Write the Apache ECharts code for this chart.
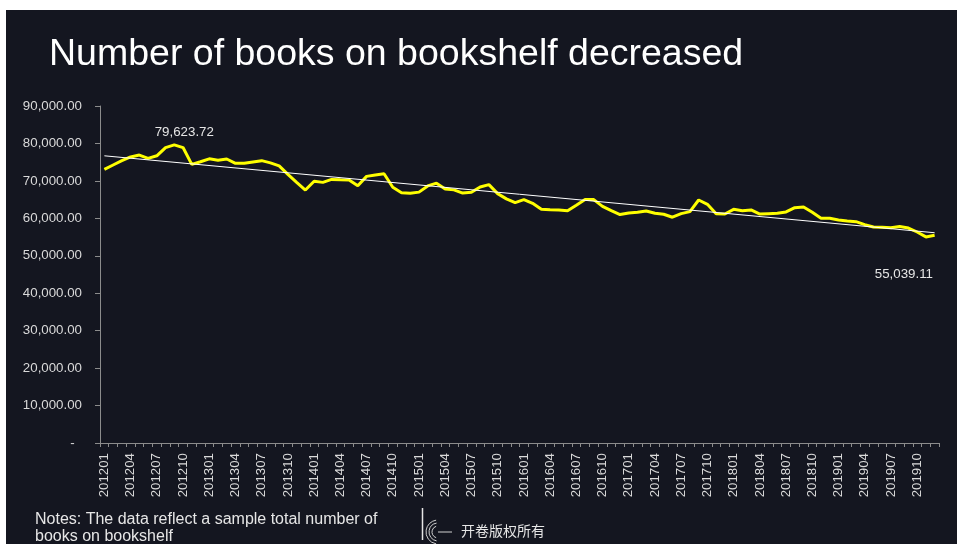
<!DOCTYPE html>
<html>
<head>
<meta charset="utf-8">
<script src="https://cdn.jsdelivr.net/npm/echarts@6/dist/echarts.min.js"></script>
<style>
html,body{margin:0;padding:0;background:#ffffff;width:957px;height:544px;overflow:hidden;}
#chart{position:absolute;left:6px;top:10px;width:951px;height:534px;background:#141620;}
</style>
</head>
<body>
<div id="chart"></div>
<script>
const categories = [
'201201','201202','201203','201204','201205','201206','201207','201208','201209','201210','201211','201212',
'201301','201302','201303','201304','201305','201306','201307','201308','201309','201310','201311','201312',
'201401','201402','201403','201404','201405','201406','201407','201408','201409','201410','201411','201412',
'201501','201502','201503','201504','201505','201506','201507','201508','201509','201510','201511','201512',
'201601','201602','201603','201604','201605','201606','201607','201608','201609','201610','201611','201612',
'201701','201702','201703','201704','201705','201706','201707','201708','201709','201710','201711','201712',
'201801','201802','201803','201804','201805','201806','201807','201808','201809','201810','201811','201812',
'201901','201902','201903','201904','201905','201906','201907','201908','201909','201910','201911','201912'
];
const books = [
73100,74250,75400,76400,76900,76000,76700,78900,79623.72,78900,74400,75100,
75900,75500,75850,74700,74700,75050,75400,74800,74000,71750,69600,67550,
69900,69600,70400,70300,70250,68700,71200,71600,71900,68300,66850,66700,
67000,68650,69400,67850,67600,66750,66950,68350,69000,66600,65200,64200,
65000,64000,62400,62300,62250,62050,63500,65000,65000,63200,62050,61000,
61450,61600,61950,61350,61100,60300,61250,61800,64900,63750,61250,61150,
62400,62050,62250,61150,61250,61350,61700,62850,63050,61600,60000,60000,
59550,59300,59100,58300,57700,57600,57500,57800,57400,56350,55039.11,55500
];
const trendEnds = [76700, 56150];
const labelledIdx = [8, 94];
const yTicks = {min: 0, max: 90000, interval: 10000};
const titleText = 'Number of books on bookshelf decreased';
const notesLines = ['Notes: The data reflect a sample total number of', 'books on bookshelf'];
const copyrightText = '开卷版权所有';

const fmt = v => v.toLocaleString('en-US', {minimumFractionDigits: 2, maximumFractionDigits: 2});
const FONT = '"Liberation Sans", Arial, sans-serif';
const chart = echarts.init(document.getElementById('chart'));
const labelOffsets = [[10, -1], [-22, 26]];
const labelPositions = ['top', 'bottom'];

chart.setOption({
  backgroundColor: '#141620',
  animation: false,
  title: {
    text: titleText, left: 38, top: 21,
    textStyle: {color: '#ffffff', fontSize: 37.5, fontWeight: 'normal', fontFamily: FONT}
  },
  grid: {left: 94, right: 18, top: 96, bottom: 101, containLabel: false},
  xAxis: {
    type: 'category', data: categories, boundaryGap: true,
    axisLine: {lineStyle: {color: '#8c8c8c', width: 1}},
    axisTick: {show: true, interval: 0, length: 4, lineStyle: {color: '#8c8c8c'}},
    axisLabel: {interval: 2, rotate: 90, margin: 10, color: '#d9d9d9', fontSize: 13.3, fontFamily: FONT},
    splitLine: {show: false}
  },
  yAxis: {
    type: 'value', min: yTicks.min, max: yTicks.max, interval: yTicks.interval,
    axisLine: {show: true, lineStyle: {color: '#8c8c8c', width: 1}},
    axisTick: {show: true, length: 5, lineStyle: {color: '#8c8c8c'}},
    axisLabel: {margin: 18, color: '#d9d9d9', fontSize: 13.3, fontFamily: FONT,
      formatter: v => v === 0 ? '-  ' : fmt(v)},
    splitLine: {show: false}
  },
  series: [{
    type: 'line', data: books, showSymbol: false, symbol: 'none',
    lineStyle: {color: '#ffff00', width: 3},
    itemStyle: {color: '#ffff00'},
    markPoint: {
      symbol: 'circle', symbolSize: 0, silent: true,
      data: labelledIdx.map((i, k) => ({
        coord: [categories[i], books[i]], value: books[i],
        label: {show: true, position: labelPositions[k], offset: labelOffsets[k], distance: 5,
          formatter: p => fmt(p.value), color: '#e6e6e6', fontSize: 13.3, fontFamily: FONT}
      }))
    },
    markLine: {
      silent: true, symbol: 'none', label: {show: false},
      lineStyle: {color: '#ffffff', width: 1, type: 'solid'},
      data: [[{coord: [categories[0], trendEnds[0]]}, {coord: [categories[categories.length - 1], trendEnds[1]]}]]
    }
  }],
  graphic: [
    {type: 'text', left: 29, top: 501, style: {text: notesLines.join('\n'), fill: '#e6e6e6', font: '16px ' + FONT, lineHeight: 17}},
    {type: 'line', shape: {x1: 416.5, y1: 498, x2: 416.5, y2: 530}, style: {stroke: '#e6e6e6', lineWidth: 1.5}},
    {type: 'arc', shape: {cx: 432, cy: 522, r: 12, startAngle: Math.PI * 0.55, endAngle: Math.PI * 1.45}, style: {stroke: '#d0d0d0', lineWidth: 1, fill: null}},
    {type: 'arc', shape: {cx: 432, cy: 522, r: 9, startAngle: Math.PI * 0.55, endAngle: Math.PI * 1.45}, style: {stroke: '#d0d0d0', lineWidth: 1, fill: null}},
    {type: 'arc', shape: {cx: 432, cy: 522, r: 6, startAngle: Math.PI * 0.6, endAngle: Math.PI * 1.4}, style: {stroke: '#d0d0d0', lineWidth: 1, fill: null}},
    {type: 'line', shape: {x1: 432, y1: 522, x2: 446, y2: 522}, style: {stroke: '#d0d0d0', lineWidth: 1}},
    {type: 'text', left: 455, top: 514, style: {text: copyrightText, fill: '#e6e6e6', font: '14px "Noto Sans CJK SC", sans-serif'}}
  ]
});
</script>
</body>
</html>
